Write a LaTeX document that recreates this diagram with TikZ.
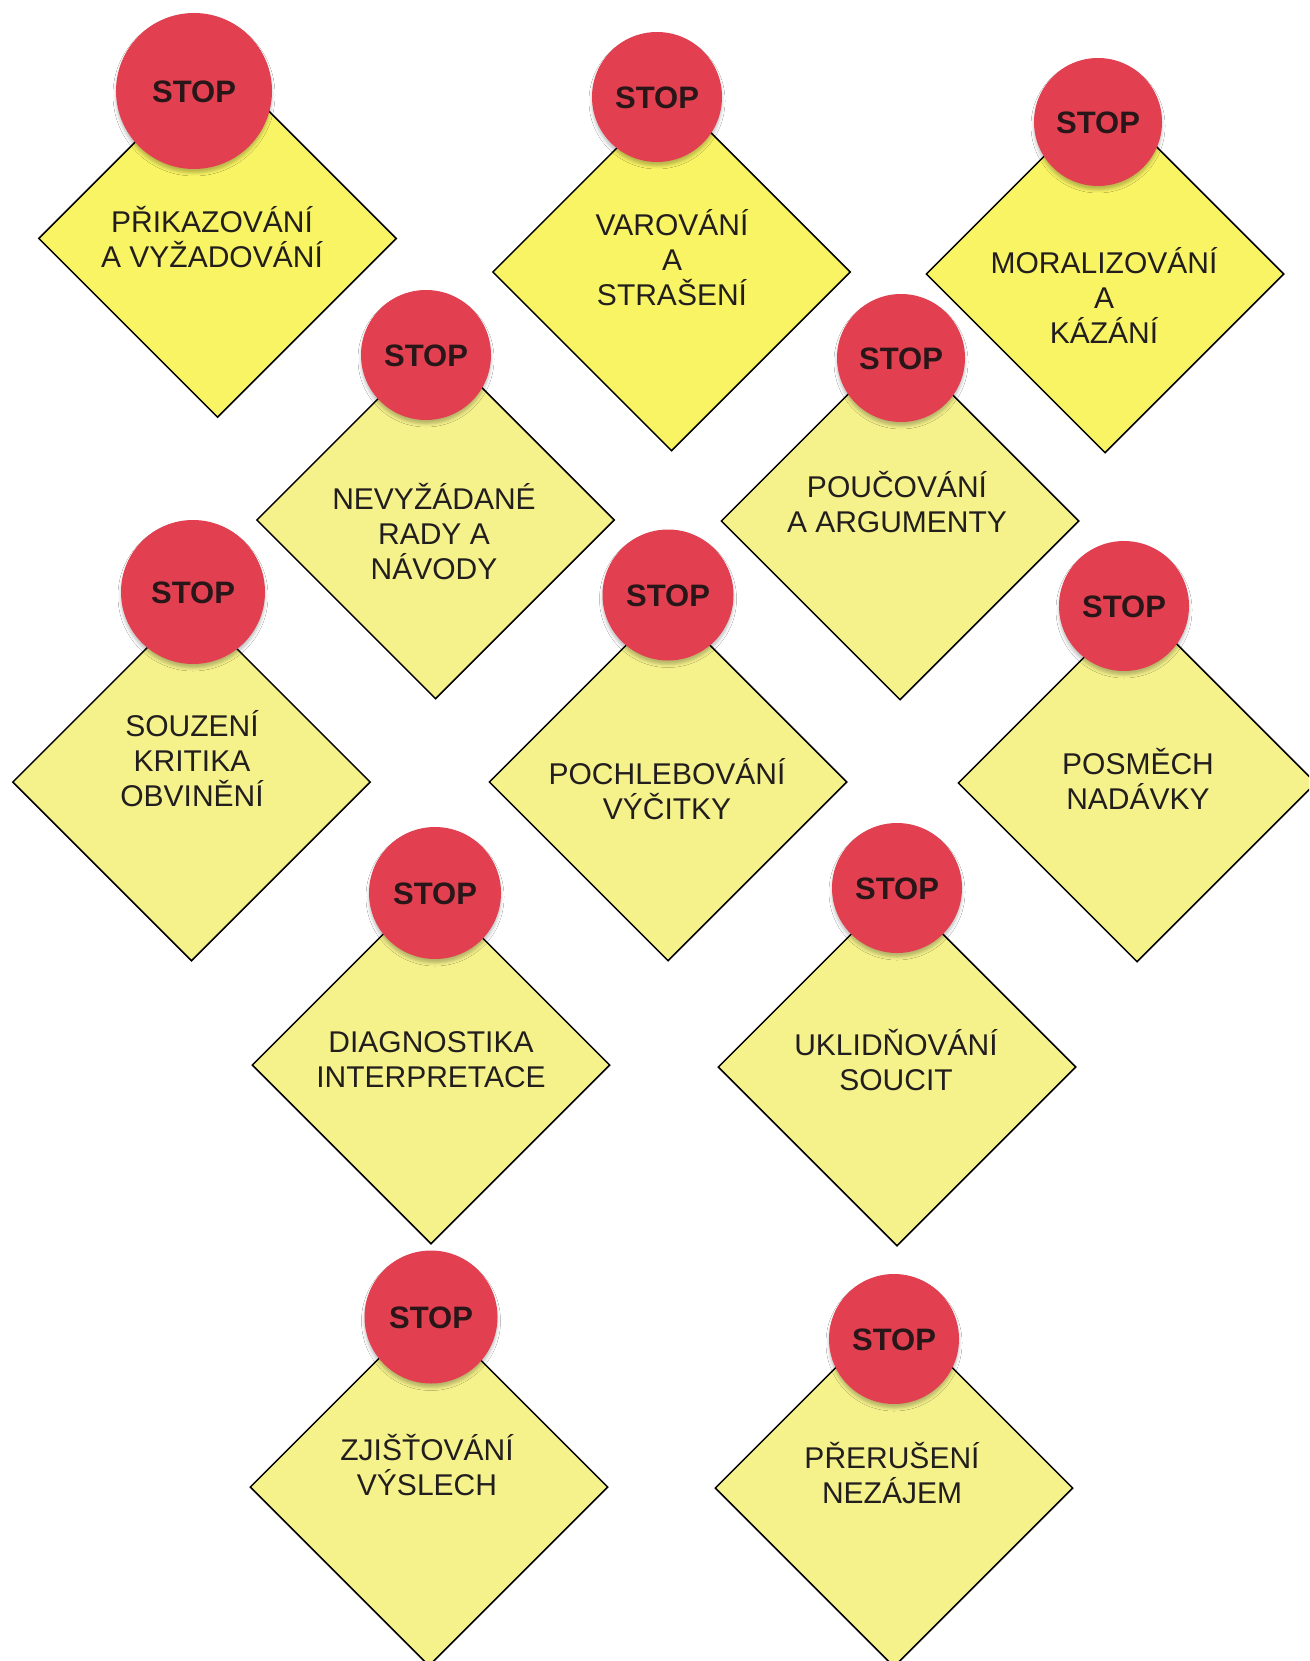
\documentclass[tikz,border=0pt]{standalone}
\usepackage{fontspec}
\setmainfont{Liberation Sans}
\usetikzlibrary{shapes.geometric,shadows.blur}
\definecolor{stopred}{RGB}{226,64,80}
\definecolor{ylwA}{RGB}{249,244,100}
\definecolor{ylwB}{RGB}{245,242,140}
\definecolor{ink}{RGB}{34,30,30}
\definecolor{stopink}{RGB}{40,22,24}
\lineskiplimit=-\maxdimen
\newcommand\lstrut{\rule[-8.5pt]{0pt}{38.5pt}}
\begin{document}
\begin{tikzpicture}[x=1pt,y=-1pt,
  sign/.style={diamond, draw=black, line width=1.5pt, inner sep=0pt,
    minimum width=358pt, minimum height=358pt, fill=ylwB},
  stopdisc/.style={circle, fill=stopred, inner sep=0pt, minimum size=#1,
    font=\fontsize{31}{36}\selectfont\bfseries, text=stopink, text height=26pt, text depth=3.8pt,
    blur shadow={shadow xshift=0pt, shadow yshift=-4pt, shadow blur radius=3pt, shadow opacity=25}},
  lbl/.style={align=center, text=ink, font=\fontsize{30}{35}\selectfont, inner sep=0pt}
]
\clip (0,0) rectangle (1309,1661);
\fill[white] (0,0) rectangle (1309,1661);

% diamonds
\node[sign, fill=ylwA] (d1) at (217.5,238.5) {};
\node[sign, fill=ylwA] (d2) at (671.5,272) {};
\node[sign, fill=ylwA] (d3) at (1105,274) {};
\node[sign] (d6) at (435.5,520) {};
\node[sign] (d7) at (900,521) {};
\node[sign] (d4) at (191.5,782) {};
\node[sign] (d8) at (668,782) {};
\node[sign] (d9) at (1137,783) {};
\node[sign] (d10) at (431,1065) {};
\node[sign] (d11) at (897,1067) {};
\node[sign] (d5) at (429,1487) {};
\node[sign] (d12) at (894,1488) {};

% labels
\node[lbl] (t1) at (212,239.5) {\lstrut PŘIKAZOVÁNÍ\\\lstrut A VYŽADOVÁNÍ};
\node[lbl] (t2) at (672,260) {\lstrut VAROVÁNÍ\\\lstrut A\\\lstrut STRAŠENÍ};
\node[lbl] (t3) at (1104,297.5) {\lstrut MORALIZOVÁNÍ\\\lstrut A\\\lstrut KÁZÁNÍ};
\node[lbl] (t6) at (434,533.5) {\lstrut NEVYŽÁDANÉ\\\lstrut RADY A\\\lstrut NÁVODY};
\node[lbl] (t7) at (897,504.5) {\lstrut POUČOVÁNÍ\\\lstrut A ARGUMENTY};
\node[lbl] (t4) at (192,761) {\lstrut SOUZENÍ\\\lstrut KRITIKA\\\lstrut OBVINĚNÍ};
\node[lbl] (t8) at (667,791.5) {\lstrut POCHLEBOVÁNÍ\\\lstrut VÝČITKY};
\node[lbl] (t9) at (1138,781.5) {\lstrut POSMĚCH\\\lstrut NADÁVKY};
\node[lbl] (t10) at (431,1059.5) {\lstrut DIAGNOSTIKA\\\lstrut INTERPRETACE};
\node[lbl] (t11) at (896,1062.5) {\lstrut UKLIDŇOVÁNÍ\\\lstrut SOUCIT};
\node[lbl] (t5) at (427,1467.5) {\lstrut ZJIŠŤOVÁNÍ\\\lstrut VÝSLECH};
\node[lbl] (t12) at (892,1475.5) {\lstrut PŘERUŠENÍ\\\lstrut NEZÁJEM};

% stop discs
\node[stopdisc=156pt] (c1) at (194,91) {STOP};
\node[stopdisc=130pt] (c2) at (657,97) {STOP};
\node[stopdisc=128pt] (c3) at (1098,122) {STOP};
\node[stopdisc=130pt] (c6) at (426,355) {STOP};
\node[stopdisc=128pt] (c7) at (901,358) {STOP};
\node[stopdisc=144pt] (c4) at (193,592) {STOP};
\node[stopdisc=131pt] (c8) at (668,595) {STOP};
\node[stopdisc=130pt] (c9) at (1124,606) {STOP};
\node[stopdisc=132pt] (c10) at (435,893) {STOP};
\node[stopdisc=130pt] (c11) at (897,888) {STOP};
\node[stopdisc=133pt] (c5) at (431,1317) {STOP};
\node[stopdisc=130pt] (c12) at (894,1339) {STOP};
\end{tikzpicture}
\end{document}
